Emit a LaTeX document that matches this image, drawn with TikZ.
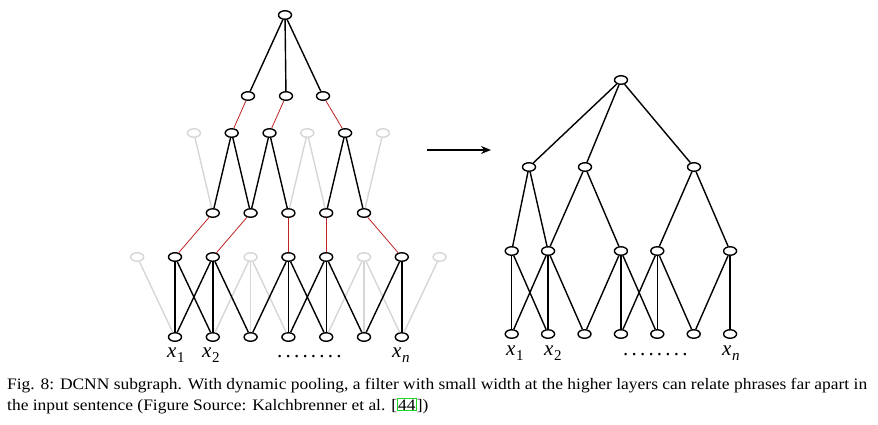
\documentclass[tikz,border=0pt]{standalone}
\usepackage{fontspec}
\setmainfont{Liberation Serif}
\newfontfamily\captfont[FakeStretch=1.09]{Liberation Serif}
\usetikzlibrary{shapes.geometric,arrows.meta}
\definecolor{unitgray}{RGB}{214,214,214}
\definecolor{poolred}{RGB}{190,35,35}
\definecolor{refgreen}{RGB}{30,215,30}
\newcommand{\xsub}[1]{\textit{x}\kern0.5pt\raisebox{-5pt}{\fontsize{15}{15}\selectfont #1}}
\newcommand{\dotrow}{.\kern3.2pt.\kern3.2pt.\kern3.2pt.\kern3.2pt.\kern3.2pt.\kern3.2pt.\kern3.2pt.}

\begin{document}
\begin{tikzpicture}[x=1pt,y=-1pt,
	unit/.style={ellipse,draw,line width=1.4pt,fill=white,minimum width=13pt,minimum height=8.5pt,inner sep=0pt},
	ghost/.style={unit,draw=unitgray},
	conn/.style={line width=1.4pt},
	ghostconn/.style={line width=1.4pt,draw=unitgray},
	pool/.style={line width=0.8pt,draw=poolred},
	lbl/.style={font=\fontsize{21}{21}\selectfont,inner sep=0pt,anchor=base west},
	capt/.style={font=\captfont\fontsize{16}{21}\selectfont,inner sep=0pt,anchor=base west}]
	\useasboundingbox (0,0) rectangle (878,424);
	% left: before pooling
	\foreach \i in {1,...,7}
		\node[unit] (a6-\i) at ({137.2+37.8*\i},337) {};
	\foreach \i/\s in {0/ghost,1/unit,2/unit,3/ghost,4/unit,5/unit,6/ghost,7/unit,8/ghost}
		\node[\s] (a5-\i) at ({137.2+37.8*\i},257) {};
	\foreach \i in {2,...,6}
		\node[unit] (a4-\i) at ({137.2+37.8*\i},213) {};
	\foreach \i/\s in {1/ghost,2/unit,3/unit,4/ghost,5/unit,6/ghost}
		\node[\s] (a3-\i) at ({137.2+37.8*(\i+0.5)},133) {};
	\node[unit] (a2-1) at (248,96) {};
	\node[unit] (a2-2) at (286,96) {};
	\node[unit] (a2-3) at (323,96) {};
	\node[unit] (atop) at (285,15) {};
	\foreach \i/\j in {0/1,3/2,3/3,3/4,6/5,6/6,6/7,8/7}
		\draw[ghostconn] (a5-\i) -- (a6-\j);
	\foreach \i/\j in {1/2,4/4,4/5,6/6}
		\draw[ghostconn] (a3-\i) -- (a4-\j);
	\foreach \i/\j in {1/1,1/2,2/1,2/2,2/3,4/3,4/4,4/5,5/4,5/5,5/6,7/6,7/7}
		\draw[conn] (a5-\i) -- (a6-\j);
	\foreach \i/\j in {2/2,2/3,3/3,3/4,5/5,5/6}
		\draw[conn] (a3-\i) -- (a4-\j);
	\foreach \j in {1,2,3}
		\draw[conn] (atop) -- (a2-\j);
	\foreach \i/\j in {1/2,2/3,3/5}
		\draw[pool] (a2-\i) -- (a3-\j);
	\foreach \i/\j in {2/1,3/2,4/4,5/5,6/7}
		\draw[pool] (a4-\i) -- (a5-\j);
	\node[lbl] (ax1) at (167,357) {\xsub{1}};
	\node[lbl] (ax2) at (202,357) {\xsub{2}};
	\node[lbl] (adots) at (277,357) {\dotrow};
	\node[lbl] (axn) at (392,357) {\xsub{\textit{n}}};
	% arrow
	\coordinate (from) at (427,150);
	\coordinate (to) at (491,150);
	\draw[line width=1.5pt,-{Stealth[length=10pt,width=8pt]}] (from) -- (to);
	% right: after pooling
	\foreach \i in {1,...,7}
		\node[unit] (b4-\i) at ({475.3+36.4*\i},334) {};
	\foreach \i in {1,2,4,5,7}
		\node[unit] (b3-\i) at ({475.3+36.4*\i},251) {};
	\node[unit] (b2-1) at (529,167) {};
	\node[unit] (b2-2) at (585,167) {};
	\node[unit] (b2-3) at (694,167) {};
	\node[unit] (btop) at (621,80) {};
	\foreach \j in {1,2,3}
		\draw[conn] (btop) -- (b2-\j);
	\foreach \i/\j in {1/1,1/2,2/2,2/4,3/5,3/7}
		\draw[conn] (b2-\i) -- (b3-\j);
	\foreach \i/\j in {1/1,1/2,2/1,2/2,2/3,4/3,4/4,4/5,5/4,5/5,5/6,7/6,7/7}
		\draw[conn] (b3-\i) -- (b4-\j);
	\node[lbl] (bx1) at (506,355) {\xsub{1}};
	\node[lbl] (bx2) at (544,355) {\xsub{2}};
	\node[lbl] (bdots) at (623,355) {\dotrow};
	\node[lbl] (bxn) at (722,355) {\xsub{\textit{n}}};
	% caption
	\node[capt] (cap1) at (7,389) {Fig. 8: DCNN subgraph. With dynamic pooling, a filter with small width at the higher layers can relate phrases far apart in};
	\node[capt] (cap2) at (7,410) {the input sentence (Figure Source: Kalchbrenner et al. [{\setlength{\fboxsep}{0.3pt}\setlength{\fboxrule}{0.9pt}\fcolorbox{refgreen}{white}{44}}])};
\end{tikzpicture}
\end{document}
